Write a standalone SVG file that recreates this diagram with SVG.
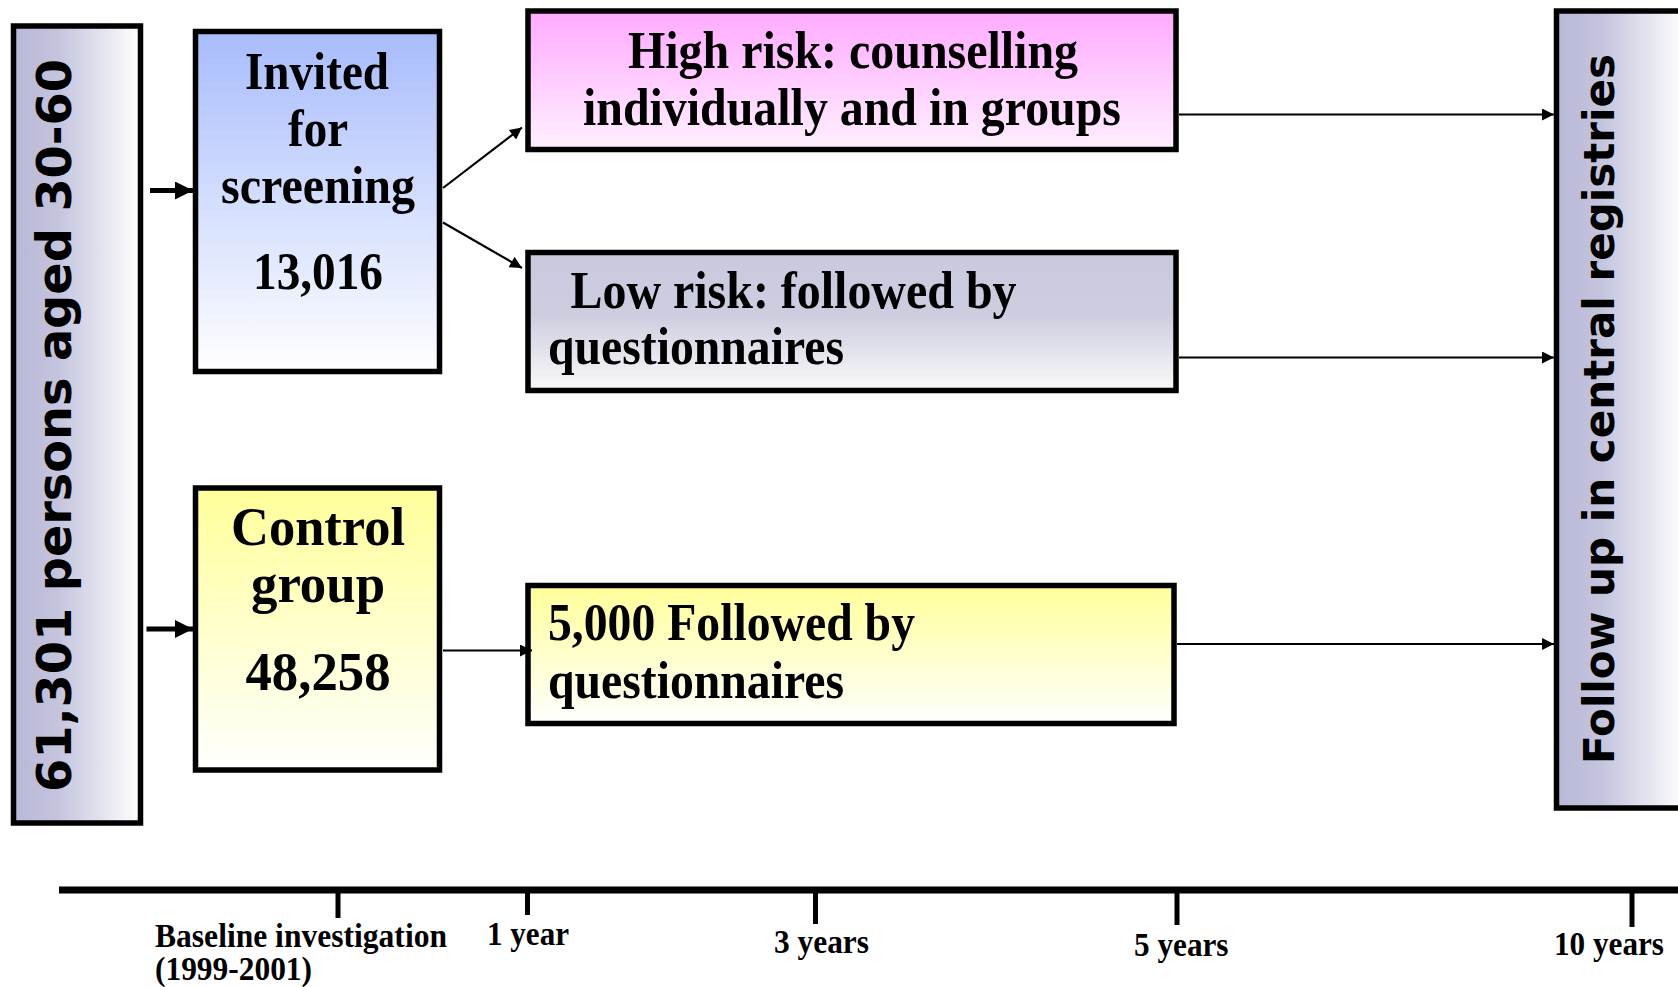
<svg xmlns="http://www.w3.org/2000/svg" width="1678" height="987" viewBox="0 0 1678 987">
<defs>
<linearGradient id="gSide" x1="0" y1="0" x2="1" y2="0"><stop offset="0" stop-color="#b8b8d8"/><stop offset="0.35" stop-color="#c4c4de"/><stop offset="1" stop-color="#ffffff"/></linearGradient>
<linearGradient id="gBlue" x1="0" y1="0" x2="0" y2="1"><stop offset="0" stop-color="#a8bcfc"/><stop offset="1" stop-color="#ffffff"/></linearGradient>
<linearGradient id="gYellow" x1="0" y1="0" x2="0" y2="1"><stop offset="0" stop-color="#ffff99"/><stop offset="1" stop-color="#ffffff"/></linearGradient>
<linearGradient id="gPink" x1="0" y1="0" x2="0" y2="1"><stop offset="0" stop-color="#ffaaff"/><stop offset="1" stop-color="#fff0ff"/></linearGradient>
<linearGradient id="gGrey" x1="0" y1="0" x2="0" y2="1"><stop offset="0" stop-color="#cacadf"/><stop offset="0.45" stop-color="#cdcde0"/><stop offset="1" stop-color="#fafafa"/></linearGradient>
<marker id="ahb" viewBox="0 0 10 10" refX="10" refY="5" markerWidth="20" markerHeight="18" markerUnits="userSpaceOnUse" orient="auto"><path d="M0,0 L10,5 L0,10 z" fill="#000"/></marker>
<marker id="ahs" viewBox="0 0 10 10" refX="10" refY="5" markerWidth="14" markerHeight="12" markerUnits="userSpaceOnUse" orient="auto"><path d="M0,0 L10,5 L0,10 z" fill="#000"/></marker>
</defs>
<style>
.box{stroke:#000;stroke-width:5.5}
.t{font-family:"Liberation Serif","Times New Roman",serif;font-weight:bold;fill:#000}
.v{font-family:"DejaVu Sans",Verdana,sans-serif;font-weight:bold;fill:#000}
.c{stroke:#000;fill:none}
</style>
<rect width="1678" height="987" fill="#fff"/>
<g id="population">
<rect class="box" x="13.5" y="26" width="127" height="797" fill="url(#gSide)"/>
<text class="v" x="71" y="425.5" font-size="48" text-anchor="middle" textLength="733" lengthAdjust="spacingAndGlyphs" transform="rotate(-90 71 425.5)">61,301 persons aged 30-60</text>
</g>
<g id="invited">
<rect class="box" x="195.5" y="31.5" width="244" height="340" fill="url(#gBlue)"/>
<text class="t" font-size="53" text-anchor="middle"><tspan x="317" y="89" textLength="144" lengthAdjust="spacingAndGlyphs">Invited</tspan><tspan x="318" y="145.5" textLength="60" lengthAdjust="spacingAndGlyphs">for</tspan><tspan x="318" y="203" textLength="194" lengthAdjust="spacingAndGlyphs">screening</tspan><tspan x="318" y="289" textLength="130" lengthAdjust="spacingAndGlyphs">13,016</tspan></text>
</g>
<g id="control">
<rect class="box" x="195.5" y="488" width="244" height="282" fill="url(#gYellow)"/>
<text class="t" font-size="55" text-anchor="middle"><tspan x="318" y="545" textLength="174" lengthAdjust="spacingAndGlyphs">Control</tspan><tspan x="318" y="602" textLength="134" lengthAdjust="spacingAndGlyphs">group</tspan><tspan x="318" y="690" textLength="145" lengthAdjust="spacingAndGlyphs">48,258</tspan></text>
</g>
<g id="highrisk">
<rect class="box" x="528" y="11" width="648" height="138.5" fill="url(#gPink)"/>
<text class="t" font-size="52" text-anchor="middle"><tspan x="853" y="67.5" textLength="450" lengthAdjust="spacingAndGlyphs">High risk: counselling</tspan><tspan x="852" y="125" textLength="538" lengthAdjust="spacingAndGlyphs">individually and in groups</tspan></text>
</g>
<g id="lowrisk">
<rect class="box" x="528" y="252.5" width="648" height="138" fill="url(#gGrey)"/>
<text class="t" font-size="52"><tspan x="570.5" y="308" textLength="446" lengthAdjust="spacingAndGlyphs">Low risk: followed by</tspan><tspan x="548" y="364" textLength="296" lengthAdjust="spacingAndGlyphs">questionnaires</tspan></text>
</g>
<g id="questionnaire">
<rect class="box" x="528" y="585.5" width="646" height="138" fill="url(#gYellow)"/>
<text class="t" font-size="52"><tspan x="548" y="640" textLength="367" lengthAdjust="spacingAndGlyphs">5,000 Followed by</tspan><tspan x="548" y="698" textLength="296" lengthAdjust="spacingAndGlyphs">questionnaires</tspan></text>
</g>
<g id="followup">
<rect class="box" x="1556.5" y="11" width="130" height="797" fill="url(#gSide)"/>
<text class="v" x="1614" y="409" font-size="43" text-anchor="middle" textLength="710" lengthAdjust="spacingAndGlyphs" transform="rotate(-90 1614 409)">Follow up in central registries</text>
</g>
<g id="connectors">
<line class="c" x1="150" y1="190.5" x2="193" y2="190.5" stroke-width="5" marker-end="url(#ahb)"/>
<line class="c" x1="146.5" y1="629" x2="193" y2="629" stroke-width="5" marker-end="url(#ahb)"/>
<line class="c" x1="443" y1="188" x2="522" y2="127.5" stroke-width="2.2" marker-end="url(#ahs)"/>
<line class="c" x1="443" y1="222.5" x2="522" y2="268" stroke-width="2.2" marker-end="url(#ahs)"/>
<line class="c" x1="443" y1="650.5" x2="532" y2="650.5" stroke-width="2" marker-end="url(#ahs)"/>
<line class="c" x1="1179" y1="114.5" x2="1554" y2="114.5" stroke-width="2" marker-end="url(#ahs)"/>
<line class="c" x1="1179" y1="357.5" x2="1554" y2="357.5" stroke-width="2" marker-end="url(#ahs)"/>
<line class="c" x1="1177" y1="644" x2="1554" y2="644" stroke-width="2" marker-end="url(#ahs)"/>
</g>
<g id="timeline">
<line x1="59" y1="890" x2="1678" y2="890" stroke="#000" stroke-width="7"/>
<g stroke="#000" stroke-width="5">
<line x1="338" y1="890" x2="338" y2="918"/>
<line x1="527.5" y1="890" x2="527.5" y2="915"/>
<line x1="815.5" y1="890" x2="815.5" y2="924"/>
<line x1="1177" y1="890" x2="1177" y2="925"/>
<line x1="1632" y1="890" x2="1632" y2="927"/>
</g>
<text class="t" font-size="33"><tspan x="155" y="947" textLength="292" lengthAdjust="spacingAndGlyphs">Baseline investigation</tspan><tspan x="155" y="980" textLength="157" lengthAdjust="spacingAndGlyphs">(1999-2001)</tspan></text>
<text class="t" font-size="33" x="487" y="945" textLength="82" lengthAdjust="spacingAndGlyphs">1 year</text>
<text class="t" font-size="33" x="774" y="952.5" textLength="95" lengthAdjust="spacingAndGlyphs">3 years</text>
<text class="t" font-size="33" x="1134" y="955.5" textLength="94.5" lengthAdjust="spacingAndGlyphs">5 years</text>
<text class="t" font-size="33" x="1554" y="954.5" textLength="110" lengthAdjust="spacingAndGlyphs">10 years</text>
</g>
</svg>
